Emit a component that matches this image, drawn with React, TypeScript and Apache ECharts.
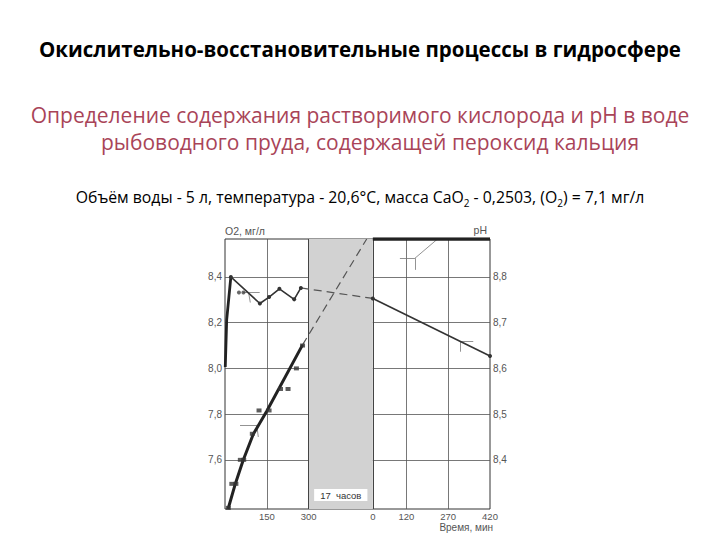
import React, { useEffect, useRef } from 'react';
import * as echarts from 'echarts';

// ---- texts ----
const TITLE = 'Окислительно-восстановительные процессы в гидросфере';
const SUBTITLE_1 = 'Определение содержания растворимого кислорода и pH в воде';
const SUBTITLE_2 = 'рыбоводного пруда, содержащей пероксид кальция';
const NOTE_PARTS = ['Объём воды - 5 л, температура - 20,6°C, масса CaO', '2', ' - 0,2503, (O', '2', ') = 7,1 мг/л'];
const Y_LEFT_NAME = 'O2, мг/л';
const Y_RIGHT_NAME = 'pH';
const X_NAME = 'Время, мин';
const BAND_LABEL = '17  часов';

// ---- time axis: left part 0..300 min, a 17-hour break, right part 0..420 min ----
const BAND_START = 300;
const RIGHT_START = 530;
const RIGHT_MAX = 420;
const X_MAX = RIGHT_START + RIGHT_MAX;
const X_TICKS_LEFT = [150, 300];
const X_TICKS_RIGHT = [0, 120, 270, 420];

// ---- y axes ----
const O2_MIN = 7.385;
const O2_MAX = 8.566;
const O2_TICKS = [7.6, 7.8, 8.0, 8.2, 8.4];
const PH_TICKS = [8.4, 8.5, 8.6, 8.7, 8.8];
const toPh = (o2: number) => o2 / 2 + 4.6;

// ---- O2 (left part, minutes) ----
const O2_MEAS_T = [12, 24.5, 39, 55, 67, 98, 122, 158, 199, 226, 256, 278];
const O2_MEAS_V = [7.39, 7.495, 7.495, 7.6, 7.6, 7.714, 7.816, 7.816, 7.91, 7.91, 8.0, 8.1];
const O2_LINE_T = [11, 37.7, 64.8, 101.3, 150, 278];
const O2_LINE_V = [7.385, 7.498, 7.597, 7.712, 7.814, 8.103];
// dashed continuation through the break (axis units)
const O2_DASH_X = [278, 508];
const O2_DASH_V = [8.103, 8.566];
// right part (minutes after break) – off scale at top
const O2_RIGHT_T = [0, 420];
const O2_RIGHT_V = [8.566, 8.566];

// ---- pH ----
const PH_RISE_T = [1, 6, 21];
const PH_RISE_V = [8.603, 8.706, 8.8];
const PH_LEFT_T = [21, 125, 158, 195, 248, 272];
const PH_LEFT_V = [8.8, 8.742, 8.756, 8.774, 8.751, 8.776];
const PH_DOTS_T = [50, 66];
const PH_DOTS_V = [8.766, 8.766];
const PH_RIGHT_T = [0, 420];
const PH_RIGHT_V = [8.753, 8.627];

// ---- leader lines of the original figure (axis units, O2 units) ----
const LEADERS: number[][] = [
  [64.5, 8.333, 124.4, 8.333],
  [85, 8.329, 90.7, 8.288],
  [627, 8.482, 681, 8.482],
  [681, 8.482, 681, 8.431],
  [681, 8.482, 761, 8.565],
  [842, 8.117, 890, 8.117],
  [842, 8.117, 842, 8.073],
  [53.8, 7.753, 113.6, 7.753],
  [113.6, 7.753, 119.4, 7.7],
];

const zip = (a: number[], b: number[], off = 0) => a.map((v, i) => [v + off, b[i]]);

export default function App() {
  const ref = useRef<HTMLDivElement>(null);
  useEffect(() => {
    document.body.style.margin = '0';
    if (!ref.current) return;
    const chart = echarts.init(ref.current, undefined, { renderer: 'svg' });
    const labelFont = { color: '#555', fontSize: 9.5, fontFamily: 'Liberation Sans' };
    const vgrid = [
      ...X_TICKS_LEFT.filter((t) => t < BAND_START).map((t) => ({ xAxis: t })),
      ...X_TICKS_RIGHT.filter((t) => t > 0 && t < RIGHT_MAX).map((t) => ({ xAxis: t + RIGHT_START })),
    ];
    const option: any = {
      animation: false,
      backgroundColor: '#fff',
      grid: { left: 225, right: 230, top: 239, bottom: 31, show: true, borderColor: '#333', borderWidth: 1 },
      xAxis: {
        type: 'value',
        min: 0,
        max: X_MAX,
        axisLine: { show: false },
        axisTick: { show: false },
        splitLine: { show: false },
        axisLabel: {
          ...labelFont,
          margin: 2,
          customValues: [...X_TICKS_LEFT, ...X_TICKS_RIGHT.map((t) => t + RIGHT_START)],
          formatter: (v: number) => String(v <= BAND_START ? v : Math.round(v - RIGHT_START)),
        },
      },
      yAxis: [
        {
          type: 'value',
          min: O2_MIN,
          max: O2_MAX,
          position: 'left',
          axisLine: { show: false },
          axisTick: { show: false },
          splitLine: { show: false },
          axisLabel: {
            ...labelFont,
            fontSize: 10,
            margin: 3,
            customValues: O2_TICKS,
            formatter: (v: number) => v.toFixed(1).replace('.', ','),
          },
          name: Y_LEFT_NAME,
          nameLocation: 'end',
          nameGap: 3,
          nameTextStyle: { ...labelFont, fontSize: 10.5, align: 'left' },
        },
        {
          type: 'value',
          min: toPh(O2_MIN),
          max: toPh(O2_MAX),
          position: 'right',
          axisLine: { show: false },
          axisTick: { show: false },
          splitLine: { show: false },
          axisLabel: {
            ...labelFont,
            fontSize: 10,
            margin: 3,
            customValues: PH_TICKS,
            formatter: (v: number) => v.toFixed(1).replace('.', ','),
          },
          name: Y_RIGHT_NAME,
          nameLocation: 'end',
          nameGap: 4,
          nameTextStyle: { ...labelFont, fontSize: 10.5, align: 'right', padding: [0, 3, 0, 0] },
        },
      ],
      series: [
        {
          type: 'line',
          data: [],
          markLine: {
            silent: true,
            z: 1,
            symbol: ['none', 'none'],
            label: { show: false },
            lineStyle: { color: '#555', width: 0.8, type: 'solid' },
            data: [...O2_TICKS.map((v) => ({ yAxis: v })), ...vgrid],
          },
        },
        {
          type: 'line',
          data: [],
          markArea: {
            silent: true,
            z: 3,
            itemStyle: { color: '#d2d2d2' },
            label: {
              show: true,
              position: 'insideBottom',
              distance: 8,
              color: '#333',
              fontSize: 9.5,
              fontFamily: 'Liberation Sans',
              backgroundColor: '#fff',
              padding: [1, 6],
              formatter: BAND_LABEL,
            },
            data: [[{ xAxis: BAND_START }, { xAxis: RIGHT_START }]],
          },
          markLine: {
            silent: true,
            z: 4,
            symbol: ['none', 'none'],
            label: { show: false },
            lineStyle: { color: '#444', width: 1, type: 'solid' },
            data: [{ xAxis: BAND_START }, { xAxis: RIGHT_START }],
          },
        },
        {
          type: 'line',
          data: [],
          markLine: {
            silent: true,
            z: 4,
            symbol: ['none', 'none'],
            label: { show: false },
            lineStyle: { color: '#777', width: 0.8, type: 'solid' },
            data: LEADERS.map((l) => [{ coord: [l[0], l[1]] }, { coord: [l[2], l[3]] }]),
          },
        },
        // O2
        {
          name: 'O2 line',
          type: 'line',
          z: 5,
          showSymbol: false,
          data: zip(O2_LINE_T, O2_LINE_V),
          lineStyle: { color: '#222', width: 3 },
        },
        {
          name: 'O2',
          type: 'scatter',
          z: 6,
          symbol: 'rect',
          symbolSize: [5, 4],
          itemStyle: { color: '#333' },
          data: zip(O2_MEAS_T, O2_MEAS_V),
        },
        {
          name: 'O2 break',
          type: 'line',
          z: 5,
          showSymbol: false,
          data: zip(O2_DASH_X, O2_DASH_V),
          lineStyle: { color: '#555', width: 1.2, type: [8, 5] },
        },
        {
          name: 'O2 right',
          type: 'line',
          z: 5,
          showSymbol: false,
          data: zip(O2_RIGHT_T, O2_RIGHT_V, RIGHT_START),
          lineStyle: { color: '#222', width: 3.5 },
        },
        // pH
        {
          name: 'pH rise',
          type: 'line',
          yAxisIndex: 1,
          z: 5,
          showSymbol: false,
          data: zip(PH_RISE_T, PH_RISE_V),
          lineStyle: { color: '#222', width: 2.8 },
        },
        {
          name: 'pH',
          type: 'line',
          yAxisIndex: 1,
          z: 5,
          symbol: 'circle',
          symbolSize: 4,
          itemStyle: { color: '#333' },
          data: zip(PH_LEFT_T, PH_LEFT_V),
          lineStyle: { color: '#333', width: 1.6 },
        },
        {
          name: 'pH dots',
          type: 'scatter',
          yAxisIndex: 1,
          z: 6,
          symbol: 'circle',
          symbolSize: 4,
          itemStyle: { color: '#444' },
          data: zip(PH_DOTS_T, PH_DOTS_V),
        },
        {
          name: 'pH break',
          type: 'line',
          yAxisIndex: 1,
          z: 5,
          showSymbol: false,
          data: [zip(PH_LEFT_T, PH_LEFT_V).slice(-1)[0], zip(PH_RIGHT_T, PH_RIGHT_V, RIGHT_START)[0]],
          lineStyle: { color: '#555', width: 1.2, type: [8, 5] },
        },
        {
          name: 'pH right',
          type: 'line',
          yAxisIndex: 1,
          z: 5,
          symbol: 'circle',
          symbolSize: 4,
          itemStyle: { color: '#333' },
          data: zip(PH_RIGHT_T, PH_RIGHT_V, RIGHT_START),
          lineStyle: { color: '#333', width: 1.6 },
        },
      ],
      graphic: [
        {
          type: 'text',
          x: 360,
          y: 49,
          style: {
            text: TITLE,
            align: 'center',
            verticalAlign: 'middle',
            fontFamily: 'Open Sans',
            fontWeight: 'bold',
            fontSize: 20.5,
            fill: '#000',
          },
        },
        {
          type: 'text',
          x: 360,
          y: 115,
          style: {
            text: SUBTITLE_1,
            align: 'center',
            verticalAlign: 'middle',
            fontFamily: 'Open Sans',
            fontSize: 21,
            fill: '#a94458',
          },
        },
        {
          type: 'text',
          x: 370,
          y: 142,
          style: {
            text: SUBTITLE_2,
            align: 'center',
            verticalAlign: 'middle',
            fontFamily: 'Open Sans',
            fontSize: 21,
            fill: '#a94458',
          },
        },
        {
          type: 'text',
          x: 360,
          y: 197,
          style: {
            text:
              '{t|' + NOTE_PARTS[0] + '}{s|' + NOTE_PARTS[1] + '}{t|' + NOTE_PARTS[2] + '}{s|' +
              NOTE_PARTS[3] + '}{t|' + NOTE_PARTS[4] + '}',
            align: 'center',
            verticalAlign: 'middle',
            rich: {
              t: { fontFamily: 'Open Sans', fontSize: 15.8, fill: '#000', lineHeight: 22 },
              s: { fontFamily: 'Open Sans', fontSize: 10, fill: '#000', lineHeight: 13, verticalAlign: 'bottom' },
            },
          },
        },
        {
          type: 'text',
          x: 493,
          y: 527,
          style: {
            text: X_NAME,
            align: 'right',
            verticalAlign: 'middle',
            fontFamily: 'Liberation Sans',
            fontSize: 10,
            fill: '#555',
          },
        },
      ],
    };
    chart.setOption(option);
    return () => chart.dispose();
  }, []);
  return <div ref={ref} style={{ width: 720, height: 540 }} />;
}
